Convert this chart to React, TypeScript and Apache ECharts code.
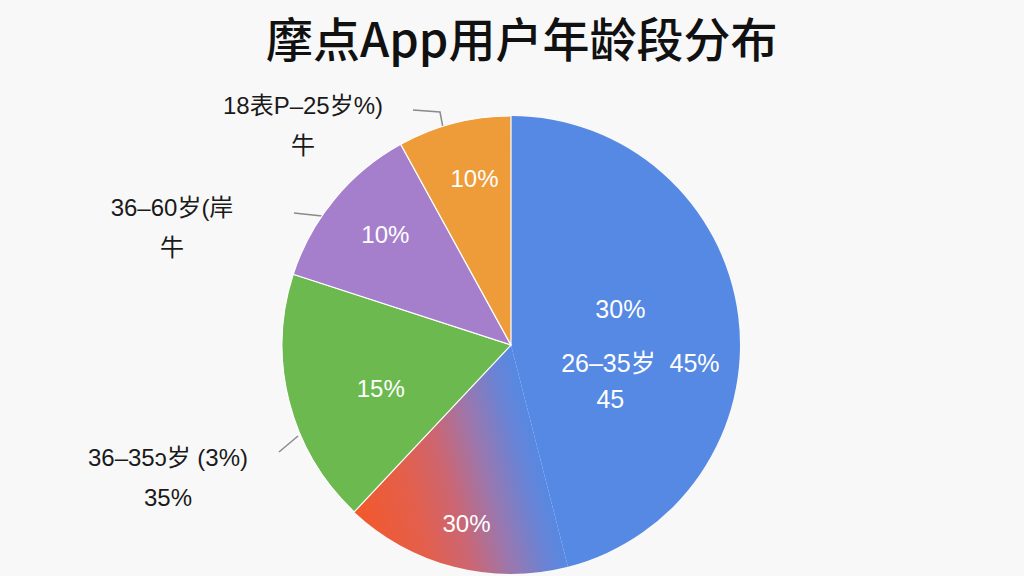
import React, { useEffect, useRef } from "react";
import * as echarts from "echarts";

const titleText = "摩点App用户年龄段分布";
const categories = ["26-35岁", "30%段", "36-35岁", "36-60岁", "18-25岁"];
const values = [46, 16, 18, 12, 8];
const colors = ["#5589e3", "#e9603f", "#6cb94f", "#a67fcc", "#ee9c3a"];
const innerLabels = [
  "{a|30%}\n{b|26–35岁  45%}\n{c|45}",
  "30%",
  "15%",
  "10%",
  "10%",
];
const outerLabels = ["", "", "36–35ɔ岁 (3%)\n35%", "36–60岁(岸\n牛", "18表P–25岁%)\n牛"];

export default function App() {
  const ref = useRef<HTMLDivElement>(null);
  useEffect(() => {
    if (!ref.current) return;
    const chart = echarts.init(ref.current, undefined, { renderer: "svg" });
    const R = 229;
    const center = [511, 345];
    const font = "'Liberation Sans', 'Noto Sans CJK SC', sans-serif";
    const titleFont = "'Noto Sans CJK SC', 'Noto Sans', sans-serif";

    // gradient perpendicular to the red/blue edge, blue exactly at the edge
    const redGradient = new echarts.graphic.LinearGradient(
      325,
      395,
      511,
      345,
      [
        { offset: 0, color: "#f2592c" },
        { offset: 0.3, color: "#e35f4c" },
        { offset: 0.5, color: "#cc6672" },
        { offset: 0.7, color: "#9a77ae" },
        { offset: 0.88, color: "#6a83d4" },
        { offset: 1, color: "#5589e3" },
      ],
      true
    );

    const borderOn = [false, false, true, true, true];
    const baseData = categories.map((name, i) => ({
      name,
      value: values[i],
      itemStyle: {
        color: i === 1 ? redGradient : colors[i],
        borderColor: "#ffffff",
        borderWidth: borderOn[i] ? 1.2 : 0,
      },
    }));

    const innerOffsets: Record<number, [number, number]> = {
      0: [-44, 40],
      1: [-1, 9],
      2: [39, 0],
      3: [9, 1],
      4: [7, 3],
    };

    const outerPos: Record<number, { x: number; y: number; pts: number[][] }> = {
      2: { x: 168, y: 477, pts: [[298, 436], [279, 452]] },
      3: { x: 172, y: 227, pts: [[322, 216], [294, 213]] },
      4: { x: 303, y: 125, pts: [[444, 133], [440, 112], [413, 110]] },
    };

    chart.setOption({
      animation: false,
      backgroundColor: "#f8f8f8",
      title: {
        text: titleText,
        left: 261,
        top: 8,
        textStyle: { fontSize: 47, fontWeight: 500, color: "#111", fontFamily: titleFont },
      },
      series: [
        {
          type: "pie",
          center,
          radius: R,
          startAngle: 90,
          clockwise: true,
          silent: true,
          label: { show: false },
          labelLine: { show: false },
          data: baseData,
        },
        {
          type: "pie",
          center,
          radius: [R * 0.5, R],
          startAngle: 90,
          silent: true,
          avoidLabelOverlap: false,
          itemStyle: { color: "rgba(0,0,0,0)" },
          label: {
            show: true,
            position: "inside",
            color: "#fff",
            fontSize: 24,
            fontFamily: font,
            formatter: (p: any) => innerLabels[p.dataIndex],
            rich: {
              a: { color: "#fff", fontSize: 25, fontFamily: font, padding: [0, 40, 37, 0], lineHeight: 36 },
              b: { color: "#fff", fontSize: 25, fontFamily: font, lineHeight: 36 },
              c: { color: "#fff", fontSize: 25, fontFamily: font, padding: [0, 60, 0, 0], lineHeight: 36 },
            },
          },
          labelLine: { show: false },
          labelLayout: (p: any) => {
            const o = innerOffsets[p.dataIndex] || [0, 0];
            return { dx: o[0], dy: o[1] };
          },
          data: categories.map((name, i) => ({ name, value: values[i] })),
        },
        {
          type: "pie",
          center,
          radius: R,
          startAngle: 90,
          silent: true,
          avoidLabelOverlap: false,
          itemStyle: { color: "rgba(0,0,0,0)" },
          label: {
            show: true,
            position: "outside",
            color: "#1a1a1a",
            fontSize: 24,
            lineHeight: 40,
            align: "center",
            fontFamily: font,
            formatter: (p: any) => outerLabels[p.dataIndex],
          },
          labelLine: { show: true, lineStyle: { color: "#8a8a8a", width: 1.5 } },
          labelLayout: (p: any) => {
            const o = outerPos[p.dataIndex];
            if (!o) return {};
            return {
              x: o.x,
              y: o.y,
              align: "center",
              verticalAlign: "middle",
              labelLinePoints: o.pts,
            };
          },
          data: categories.map((name, i) => ({
            name,
            value: values[i],
            label: { show: !!outerLabels[i] },
            labelLine: { show: !!outerLabels[i] },
          })),
        },
      ],
    });
    return () => chart.dispose();
  }, []);
  return (
    <div
      ref={ref}
      style={{ position: "fixed", left: 0, top: 0, width: 1024, height: 576 }}
    />
  );
}
